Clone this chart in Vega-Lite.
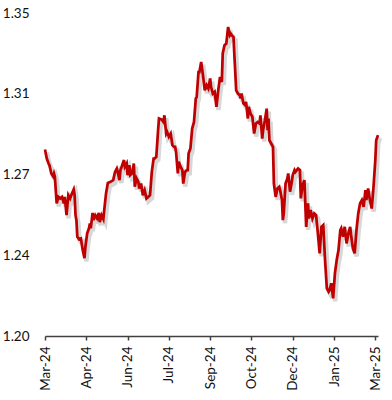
{
  "$schema": "https://vega.github.io/schema/vega-lite/v6.json",
  "width": 333,
  "height": 323,
  "autosize": {"type": "none"},
  "padding": {"left": 45, "top": 13, "right": 14, "bottom": 64},
  "background": "white",
  "config": {"view": {"stroke": null}, "font": "Lato"},
  "data": {"values": [
    {"d":"2024-03-01","v":1.2866},{"d":"2024-03-03","v":1.2824},{"d":"2024-03-05","v":1.2801},{"d":"2024-03-06","v":1.2793},
    {"d":"2024-03-08","v":1.2755},{"d":"2024-03-10","v":1.2742},{"d":"2024-03-11","v":1.2755},{"d":"2024-03-12","v":1.2739},
    {"d":"2024-03-13","v":1.2677},{"d":"2024-03-14","v":1.2616},{"d":"2024-03-16","v":1.2646},{"d":"2024-03-18","v":1.2639},
    {"d":"2024-03-20","v":1.2646},{"d":"2024-03-22","v":1.2616},{"d":"2024-03-23","v":1.2646},{"d":"2024-03-25","v":1.2561},
    {"d":"2024-03-27","v":1.2654},{"d":"2024-03-29","v":1.2639},{"d":"2024-03-31","v":1.2662},{"d":"2024-04-02","v":1.2681},
    {"d":"2024-04-03","v":1.2654},{"d":"2024-04-04","v":1.2561},{"d":"2024-04-05","v":1.2538},{"d":"2024-04-06","v":1.2461},
    {"d":"2024-04-08","v":1.2449},{"d":"2024-04-10","v":1.2453},{"d":"2024-04-12","v":1.2399},{"d":"2024-04-14","v":1.2361},
    {"d":"2024-04-15","v":1.2414},{"d":"2024-04-17","v":1.2477},{"d":"2024-04-19","v":1.2500},{"d":"2024-04-20","v":1.2523},
    {"d":"2024-04-21","v":1.2500},{"d":"2024-04-23","v":1.2572},{"d":"2024-04-24","v":1.2538},{"d":"2024-04-26","v":1.2561},
    {"d":"2024-04-28","v":1.2546},{"d":"2024-04-30","v":1.2572},{"d":"2024-05-01","v":1.2529},{"d":"2024-05-03","v":1.2561},
    {"d":"2024-05-05","v":1.2543},{"d":"2024-05-06","v":1.2585},{"d":"2024-05-08","v":1.2662},{"d":"2024-05-10","v":1.2711},
    {"d":"2024-05-13","v":1.2716},{"d":"2024-05-16","v":1.2724},{"d":"2024-05-18","v":1.2762},{"d":"2024-05-20","v":1.2778},
    {"d":"2024-05-21","v":1.2762},{"d":"2024-05-23","v":1.2724},{"d":"2024-05-24","v":1.2770},{"d":"2024-05-26","v":1.2793},
    {"d":"2024-05-28","v":1.2817},{"d":"2024-05-29","v":1.2786},{"d":"2024-05-31","v":1.2801},{"d":"2024-06-01","v":1.2747},
    {"d":"2024-06-03","v":1.2793},{"d":"2024-06-04","v":1.2747},{"d":"2024-06-06","v":1.2755},{"d":"2024-06-08","v":1.2801},
    {"d":"2024-06-09","v":1.2693},{"d":"2024-06-11","v":1.2732},{"d":"2024-06-13","v":1.2716},{"d":"2024-06-14","v":1.2685},
    {"d":"2024-06-16","v":1.2708},{"d":"2024-06-18","v":1.2654},{"d":"2024-06-20","v":1.2677},{"d":"2024-06-22","v":1.2639},
    {"d":"2024-06-24","v":1.2646},{"d":"2024-06-26","v":1.2654},{"d":"2024-06-28","v":1.2762},{"d":"2024-06-30","v":1.2824},
    {"d":"2024-07-01","v":1.2824},{"d":"2024-07-03","v":1.2832},{"d":"2024-07-05","v":1.2956},{"d":"2024-07-06","v":1.3010},
    {"d":"2024-07-09","v":1.3005},{"d":"2024-07-11","v":1.2994},{"d":"2024-07-12","v":1.3025},{"d":"2024-07-14","v":1.2940},
    {"d":"2024-07-15","v":1.2948},{"d":"2024-07-17","v":1.2925},{"d":"2024-07-19","v":1.2940},{"d":"2024-07-21","v":1.2886},
    {"d":"2024-07-23","v":1.2878},{"d":"2024-07-24","v":1.2878},{"d":"2024-07-25","v":1.2855},{"d":"2024-07-27","v":1.2755},
    {"d":"2024-07-28","v":1.2809},{"d":"2024-07-30","v":1.2786},{"d":"2024-08-01","v":1.2770},{"d":"2024-08-02","v":1.2708},
    {"d":"2024-08-04","v":1.2762},{"d":"2024-08-06","v":1.2770},{"d":"2024-08-07","v":1.2770},{"d":"2024-08-08","v":1.2848},
    {"d":"2024-08-10","v":1.2871},{"d":"2024-08-12","v":1.2964},{"d":"2024-08-14","v":1.2994},{"d":"2024-08-16","v":1.3103},
    {"d":"2024-08-17","v":1.3110},{"d":"2024-08-19","v":1.3226},{"d":"2024-08-20","v":1.3226},{"d":"2024-08-22","v":1.3273},
    {"d":"2024-08-24","v":1.3211},{"d":"2024-08-26","v":1.3141},{"d":"2024-08-28","v":1.3165},{"d":"2024-08-30","v":1.3149},
    {"d":"2024-09-01","v":1.3196},{"d":"2024-09-02","v":1.3157},{"d":"2024-09-04","v":1.3126},{"d":"2024-09-06","v":1.3134},
    {"d":"2024-09-08","v":1.3064},{"d":"2024-09-10","v":1.3141},{"d":"2024-09-12","v":1.3203},{"d":"2024-09-14","v":1.3180},
    {"d":"2024-09-15","v":1.3312},{"d":"2024-09-17","v":1.3350},{"d":"2024-09-19","v":1.3358},{"d":"2024-09-21","v":1.3435},
    {"d":"2024-09-23","v":1.3397},{"d":"2024-09-24","v":1.3404},{"d":"2024-09-26","v":1.3392},{"d":"2024-09-27","v":1.3389},
    {"d":"2024-09-28","v":1.3304},{"d":"2024-09-30","v":1.3141},{"d":"2024-10-02","v":1.3126},{"d":"2024-10-04","v":1.3118},
    {"d":"2024-10-05","v":1.3103},{"d":"2024-10-06","v":1.3126},{"d":"2024-10-08","v":1.3080},{"d":"2024-10-10","v":1.3072},
    {"d":"2024-10-11","v":1.3087},{"d":"2024-10-13","v":1.3010},{"d":"2024-10-14","v":1.3064},{"d":"2024-10-16","v":1.3033},
    {"d":"2024-10-18","v":1.3018},{"d":"2024-10-20","v":1.2940},{"d":"2024-10-22","v":1.2987},{"d":"2024-10-24","v":1.2994},
    {"d":"2024-10-26","v":1.2987},{"d":"2024-10-27","v":1.3025},{"d":"2024-10-29","v":1.2917},{"d":"2024-10-30","v":1.2956},
    {"d":"2024-11-01","v":1.3002},{"d":"2024-11-03","v":1.3056},{"d":"2024-11-04","v":1.2956},{"d":"2024-11-05","v":1.3010},
    {"d":"2024-11-06","v":1.2909},{"d":"2024-11-08","v":1.2894},{"d":"2024-11-10","v":1.2878},{"d":"2024-11-11","v":1.2708},
    {"d":"2024-11-13","v":1.2646},{"d":"2024-11-15","v":1.2685},{"d":"2024-11-17","v":1.2693},{"d":"2024-11-18","v":1.2677},
    {"d":"2024-11-20","v":1.2631},{"d":"2024-11-21","v":1.2538},{"d":"2024-11-22","v":1.2569},{"d":"2024-11-24","v":1.2708},
    {"d":"2024-11-26","v":1.2732},{"d":"2024-11-27","v":1.2755},{"d":"2024-11-29","v":1.2670},{"d":"2024-12-01","v":1.2716},
    {"d":"2024-12-02","v":1.2747},{"d":"2024-12-04","v":1.2770},{"d":"2024-12-05","v":1.2762},{"d":"2024-12-08","v":1.2778},
    {"d":"2024-12-10","v":1.2770},{"d":"2024-12-11","v":1.2639},{"d":"2024-12-13","v":1.2701},{"d":"2024-12-15","v":1.2724},
    {"d":"2024-12-17","v":1.2507},{"d":"2024-12-19","v":1.2616},{"d":"2024-12-20","v":1.2546},{"d":"2024-12-22","v":1.2585},
    {"d":"2024-12-24","v":1.2546},{"d":"2024-12-26","v":1.2569},{"d":"2024-12-28","v":1.2561},{"d":"2024-12-30","v":1.2477},
    {"d":"2025-01-01","v":1.2384},{"d":"2025-01-03","v":1.2507},{"d":"2025-01-05","v":1.2515},{"d":"2025-01-07","v":1.2353},
    {"d":"2025-01-09","v":1.2221},{"d":"2025-01-11","v":1.2206},{"d":"2025-01-12","v":1.2213},{"d":"2025-01-14","v":1.2245},
    {"d":"2025-01-16","v":1.2175},{"d":"2025-01-18","v":1.2291},{"d":"2025-01-20","v":1.2353},{"d":"2025-01-22","v":1.2399},
    {"d":"2025-01-24","v":1.2492},{"d":"2025-01-25","v":1.2500},{"d":"2025-01-27","v":1.2461},{"d":"2025-01-29","v":1.2507},
    {"d":"2025-01-31","v":1.2430},{"d":"2025-02-02","v":1.2477},{"d":"2025-02-04","v":1.2507},{"d":"2025-02-05","v":1.2469},
    {"d":"2025-02-07","v":1.2407},{"d":"2025-02-09","v":1.2384},{"d":"2025-02-11","v":1.2492},{"d":"2025-02-13","v":1.2569},
    {"d":"2025-02-15","v":1.2616},{"d":"2025-02-17","v":1.2631},{"d":"2025-02-19","v":1.2600},{"d":"2025-02-21","v":1.2677},
    {"d":"2025-02-22","v":1.2631},{"d":"2025-02-24","v":1.2685},{"d":"2025-02-26","v":1.2631},{"d":"2025-02-28","v":1.2592},
    {"d":"2025-03-02","v":1.2693},{"d":"2025-03-04","v":1.2817},{"d":"2025-03-05","v":1.2909},{"d":"2025-03-07","v":1.2933}
  ]},
  "encoding": {
    "x": {
      "field": "d", "type": "temporal",
      "scale": {"type": "utc", "domain": ["2024-03-01", "2025-03-07"]},
      "axis": {
        "title": null, "grid": false,
        "values": ["2024-03-01", "2024-04-16", "2024-06-01", "2024-07-17", "2024-09-01", "2024-10-17", "2024-12-02", "2025-01-17", "2025-03-04"],
        "format": "%b-%y", "labelAngle": -90, "labelAlign": "right", "labelBaseline": "middle",
        "labelFont": "Lato", "labelFontSize": 13.5, "labelColor": "#111111",
        "domainColor": "#404040", "domainWidth": 1.5, "tickColor": "#404040", "tickWidth": 1.5,
        "tickSize": 4, "labelPadding": 6, "labelFlush": false, "labelOverlap": false
      }
    },
    "y": {
      "field": "v", "type": "quantitative",
      "scale": {"domain": [1.2, 1.35], "zero": false, "nice": false},
      "axis": {
        "title": null, "grid": false, "domain": false, "ticks": false,
        "values": [1.2, 1.2375, 1.275, 1.3125, 1.35], "format": ".2f",
        "labelFont": "Lato", "labelFontSize": 13.5, "labelColor": "#111111",
        "labelPadding": 16, "labelFlush": false, "labelOverlap": false
      }
    }
  },
  "layer": [
    {"mark": {"type": "line", "color": "#9a9a9a", "opacity": 0.4, "strokeWidth": 4.5, "xOffset": 2, "yOffset": 3, "interpolate": "linear"}},
    {"mark": {"type": "line", "color": "#C00000", "strokeWidth": 2.75, "interpolate": "linear"}}
  ]
}
